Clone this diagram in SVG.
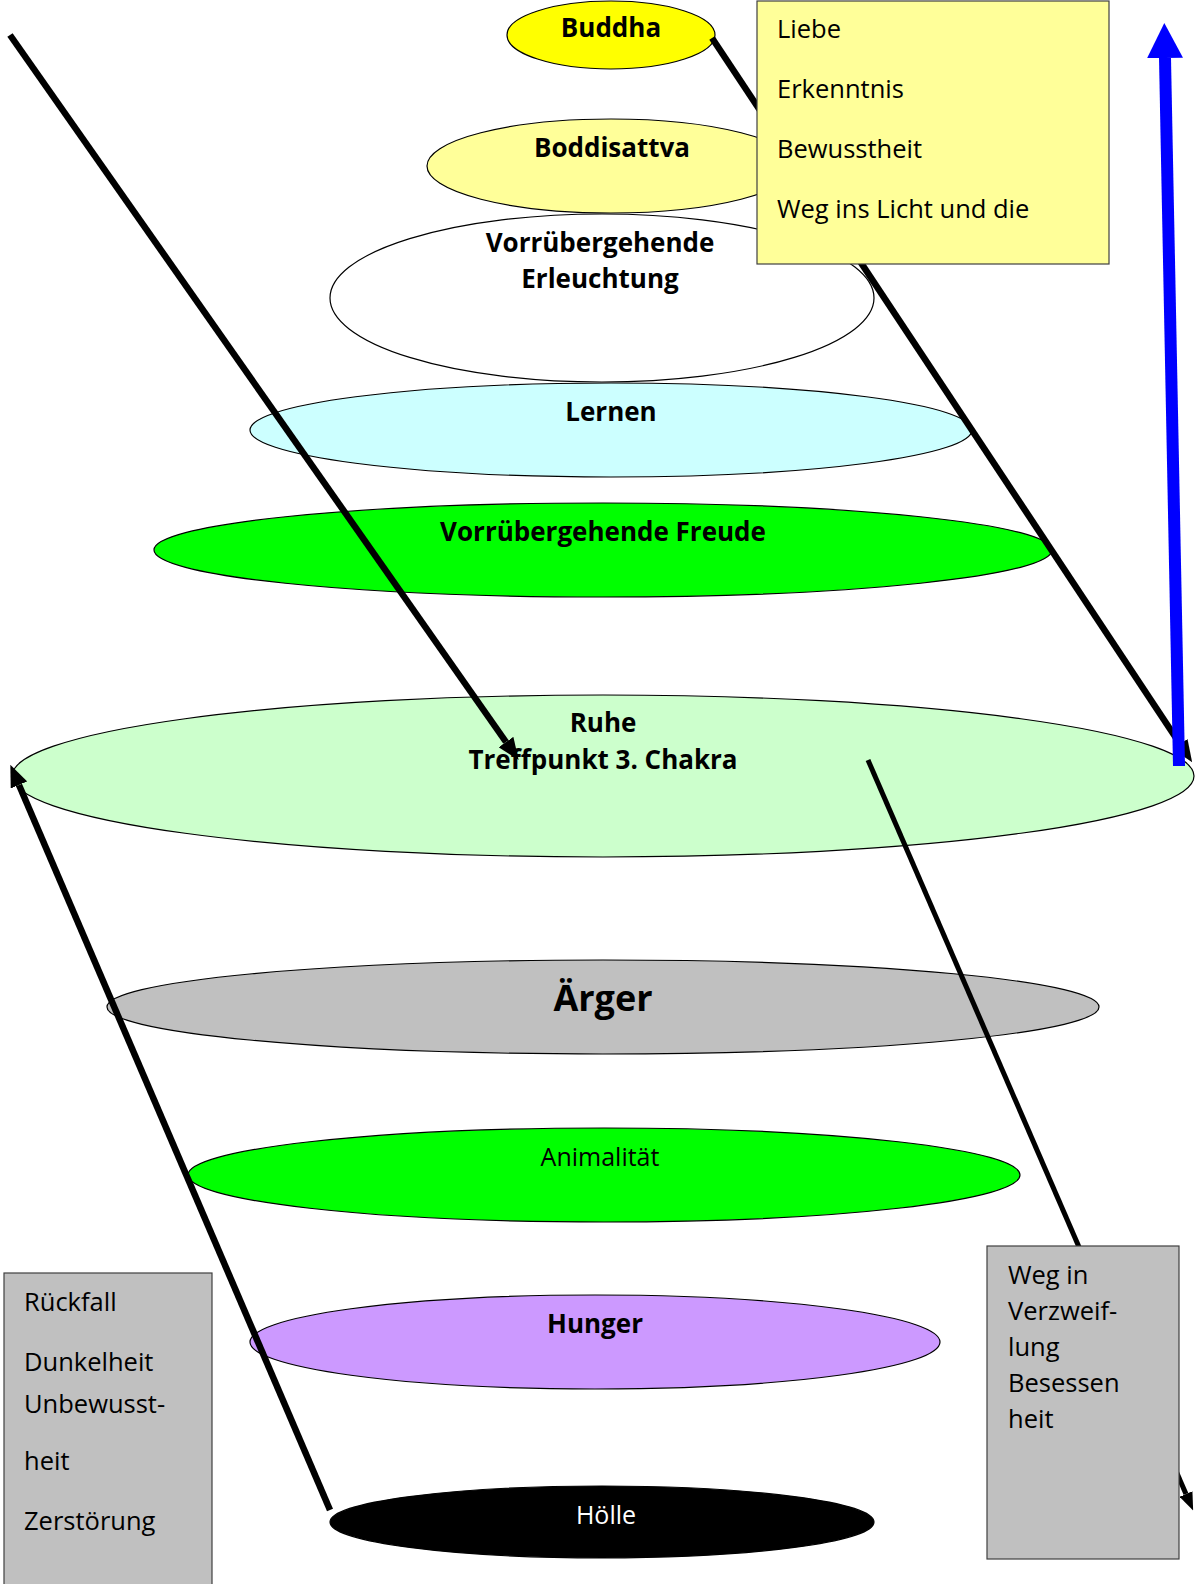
<svg xmlns="http://www.w3.org/2000/svg" width="1197" height="1584" viewBox="0 0 1197 1584">
<style>
.el{stroke:#000;stroke-width:1.2}
.lb{font-family:"Open Sans",Lato,"Liberation Sans",sans-serif;font-weight:bold;font-size:26px;fill:#000;text-anchor:middle}
.ln{font-family:"Open Sans",Lato,"Liberation Sans",sans-serif;font-size:25.5px;fill:#000}
.box{stroke:#404040;stroke-width:1.2}
.conn{stroke:#000;fill:none}
</style>
<defs>
<marker id="ah" markerUnits="userSpaceOnUse" viewBox="0 0 22 18" markerWidth="22" markerHeight="18" refX="0" refY="9" orient="auto"><path d="M0,0 L22,9 L0,18 z" fill="#000"/></marker>
<marker id="ahs" markerUnits="userSpaceOnUse" viewBox="0 0 18 14" markerWidth="18" markerHeight="14" refX="0" refY="7" orient="auto"><path d="M0,0 L18,7 L0,14 z" fill="#000"/></marker>
<marker id="ahb" markerUnits="userSpaceOnUse" viewBox="0 0 35 36" markerWidth="35" markerHeight="36" refX="0" refY="18" orient="auto"><path d="M0,0 L35,18 L0,36 z" fill="#0000FF"/></marker>
</defs>
<rect width="1197" height="1584" fill="#fff"/>
<g id="buddha"><ellipse class="el" cx="611" cy="35" rx="104" ry="34" fill="#FFFF00"/><text class="lb" x="611" y="37">Buddha</text></g>
<g id="boddisattva"><ellipse class="el" cx="611" cy="166" rx="184" ry="47" fill="#FFFF99"/><text class="lb" x="612" y="157">Boddisattva</text></g>
<g id="erleuchtung"><ellipse class="el" cx="602" cy="298" rx="272" ry="84" fill="#FFFFFF"/><text class="lb" x="600" y="252">Vorrübergehende</text><text class="lb" x="600" y="288">Erleuchtung</text></g>
<g id="lernen"><ellipse class="el" cx="611" cy="430" rx="361" ry="47" fill="#CCFFFF"/><text class="lb" x="611" y="421">Lernen</text></g>
<g id="freude"><ellipse class="el" cx="603" cy="550" rx="449" ry="47" fill="#00FF00"/><text class="lb" x="603" y="541">Vorrübergehende Freude</text></g>
<g id="ruhe"><ellipse class="el" cx="603" cy="776" rx="591" ry="81" fill="#CCFFCC"/><text class="lb" x="603" y="732">Ruhe</text><text class="lb" x="603" y="769">Treffpunkt 3. Chakra</text></g>
<g id="aerger"><ellipse class="el" cx="603" cy="1007" rx="496" ry="47" fill="#C0C0C0"/><text class="lb" x="603" y="1011" style="font-size:36px">Ärger</text></g>
<g id="animalitaet"><ellipse class="el" cx="604" cy="1175" rx="416" ry="47" fill="#00FF00"/><text class="lb" x="600" y="1166" style="font-weight:normal;font-size:25px">Animalität</text></g>
<g id="hunger"><ellipse class="el" cx="595" cy="1342" rx="345" ry="47" fill="#CC99FF"/><text class="lb" x="595" y="1333">Hunger</text></g>
<g id="hoelle"><ellipse class="el" cx="602" cy="1522" rx="272" ry="36" fill="#000000"/><text class="lb" x="606" y="1524" style="font-weight:normal;font-size:25px;fill:#fff">Hölle</text></g>
<g id="connectors">
<line class="conn" x1="10" y1="35" x2="506" y2="742" stroke-width="6.5" marker-end="url(#ah)"/>
<line class="conn" x1="712" y1="38" x2="1180" y2="744" stroke-width="6.5" marker-end="url(#ah)"/>
<line class="conn" x1="330" y1="1510" x2="19" y2="785" stroke-width="6.5" marker-end="url(#ah)"/>
<line class="conn" x1="868" y1="760" x2="1186" y2="1494" stroke-width="5" marker-end="url(#ahs)"/>
<line x1="1179" y1="766" x2="1165" y2="58" stroke="#0000FF" stroke-width="12" marker-end="url(#ahb)"/>
</g>
<g id="box-licht"><rect class="box" x="757" y="1" width="352" height="263" fill="#FFFF99"/>
<text class="ln" x="777" y="38">Liebe</text><text class="ln" x="777" y="98">Erkenntnis</text><text class="ln" x="777" y="158">Bewusstheit</text><text class="ln" x="777" y="218">Weg ins Licht und die</text></g>
<g id="box-verzweiflung"><rect class="box" x="987" y="1246" width="192" height="313" fill="#C0C0C0"/>
<text class="ln" x="1008" y="1284">Weg in</text><text class="ln" x="1008" y="1320">Verzweif-</text><text class="ln" x="1008" y="1356">lung</text><text class="ln" x="1008" y="1392">Besessen</text><text class="ln" x="1008" y="1428">heit</text></g>
<g id="box-rueckfall"><rect class="box" x="4" y="1273" width="208" height="320" fill="#C0C0C0"/>
<text class="ln" x="24" y="1311">Rückfall</text><text class="ln" x="24" y="1371">Dunkelheit</text><text class="ln" x="24" y="1413">Unbewusst-</text><text class="ln" x="24" y="1470">heit</text><text class="ln" x="24" y="1530">Zerstörung</text></g>
</svg>
